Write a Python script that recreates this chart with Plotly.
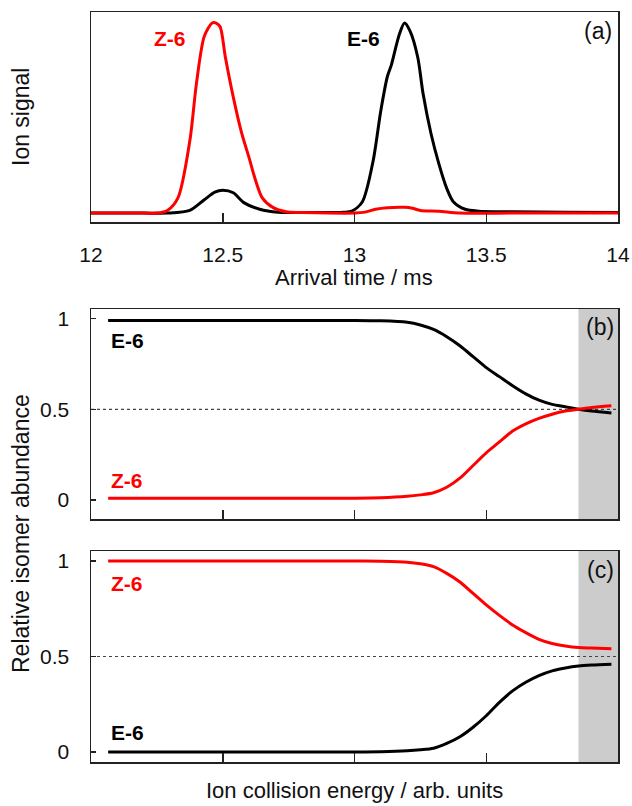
import plotly.graph_objects as go

# ---------------- data ----------------
# Panel (a): arrival-time distributions
t_z = [12.0, 12.1, 12.2, 12.25, 12.29, 12.33, 12.375, 12.40, 12.43, 12.46, 12.475, 12.49,
       12.51, 12.54, 12.57, 12.60, 12.625, 12.65, 12.69, 12.74, 12.8, 12.9, 13.0, 13.04,
       13.08, 13.125, 13.19, 13.22, 13.25, 13.32, 13.4, 13.6, 13.8, 14.0]
z_signal = [0, 0, 0, 0, 0.014, 0.08, 0.38, 0.68, 0.93, 1.0, 1.0, 0.98,
            0.82, 0.61, 0.43, 0.29, 0.17, 0.08, 0.03, 0.007, 0.003, 0, 0, 0.005,
            0.02, 0.028, 0.03, 0.025, 0.014, 0.01, 0.0, 0, 0, 0]

t_e = [12.0, 12.2, 12.29, 12.375, 12.43, 12.47, 12.5, 12.54, 12.58, 12.64, 12.71, 12.8,
       12.9, 12.96, 12.99, 13.03, 13.07, 13.10, 13.125, 13.14, 13.17, 13.19, 13.21, 13.24,
       13.26, 13.29, 13.32, 13.35, 13.375, 13.42, 13.47, 13.6, 13.8, 14.0]
e_signal = [0, 0, 0, 0.014, 0.07, 0.11, 0.12, 0.107, 0.055, 0.02, 0.004, 0.003,
            0.003, 0.004, 0.01, 0.06, 0.27, 0.54, 0.72, 0.78, 0.94, 1.0, 0.96, 0.82,
            0.63, 0.42, 0.26, 0.13, 0.06, 0.02, 0.01, 0.007, 0.004, 0.003]

time_ticks = [12, 12.5, 13, 13.5, 14]
time_tick_labels = ["12", "12.5", "13", "13.5", "14"]

# Panels (b) and (c): relative abundance vs collision energy
energy = [0.13, 0.5, 1.0, 1.5, 2.0, 2.2, 2.4, 2.5, 2.6, 2.7, 2.8, 2.9, 3.0, 3.1, 3.2,
          3.3, 3.4, 3.5, 3.6, 3.7, 3.8, 3.95]
b_E6 = [0.99, 0.99, 0.99, 0.99, 0.99, 0.988, 0.98, 0.965, 0.94, 0.90, 0.85, 0.79, 0.73, 0.68, 0.63,
        0.585, 0.55, 0.527, 0.514, 0.50, 0.49, 0.48]
b_Z6 = [0.01, 0.01, 0.01, 0.01, 0.01, 0.012, 0.02, 0.028, 0.04, 0.07, 0.12, 0.19, 0.26, 0.32, 0.38,
        0.42, 0.45, 0.473, 0.49, 0.50, 0.51, 0.52]
c_Z6 = [1.0, 1.0, 1.0, 1.0, 1.0, 0.998, 0.993, 0.985, 0.97, 0.935, 0.89, 0.83, 0.77, 0.715, 0.665,
        0.625, 0.59, 0.568, 0.555, 0.547, 0.544, 0.54]
c_E6 = [0.0, 0.0, 0.0, 0.0, 0.0, 0.002, 0.007, 0.012, 0.02, 0.045, 0.08, 0.13, 0.19, 0.26, 0.32,
        0.365, 0.40, 0.425, 0.44, 0.45, 0.455, 0.46]

abund_ticks = [0, 0.5, 1]
abund_tick_labels = ["0", "0.5", "1"]
energy_ticks = [1, 2, 3]
shade_range = [3.70, 4.0]

# ---------------- figure ----------------
W, H = 632, 806
RED = "#ff0000"
BLK = "#000000"
FONT = "Liberation Sans, Arial, sans-serif"

def px_x(p):
    return p / W

def px_y(p):
    return 1 - p / H

fig = go.Figure()

line_kw = dict(shape="spline", smoothing=0.8, width=3)

fig.add_trace(go.Scatter(x=t_e, y=e_signal, mode="lines", line=dict(color=BLK, **line_kw),
                         xaxis="x", yaxis="y", showlegend=False, hoverinfo="skip"))
fig.add_trace(go.Scatter(x=t_z, y=z_signal, mode="lines", line=dict(color=RED, **line_kw),
                         xaxis="x", yaxis="y", showlegend=False, hoverinfo="skip"))

fig.add_trace(go.Scatter(x=energy, y=b_E6, mode="lines", line=dict(color=BLK, **line_kw),
                         xaxis="x2", yaxis="y2", showlegend=False, hoverinfo="skip"))
fig.add_trace(go.Scatter(x=energy, y=b_Z6, mode="lines", line=dict(color=RED, **line_kw),
                         xaxis="x2", yaxis="y2", showlegend=False, hoverinfo="skip"))

fig.add_trace(go.Scatter(x=energy, y=c_E6, mode="lines", line=dict(color=BLK, **line_kw),
                         xaxis="x3", yaxis="y3", showlegend=False, hoverinfo="skip"))
fig.add_trace(go.Scatter(x=energy, y=c_Z6, mode="lines", line=dict(color=RED, **line_kw),
                         xaxis="x3", yaxis="y3", showlegend=False, hoverinfo="skip"))

xdom = [px_x(91), px_x(618)]
axis_common = dict(showline=True, linecolor="#222222", linewidth=1.5, mirror=True,
                   showgrid=False, zeroline=False, tickcolor="#222222", automargin=False,
                   tickwidth=1.5, tickfont=dict(family=FONT, size=21, color="#111111"))

fig.update_layout(
    width=W, height=H, margin=dict(l=0, r=0, t=0, b=0, autoexpand=False),
    paper_bgcolor="white", plot_bgcolor="white",
    font=dict(family=FONT, color="#111111"),
    xaxis=dict(domain=xdom, anchor="y", range=[12, 14], tickvals=time_ticks, ticks="inside",
               ticktext=time_tick_labels, ticklen=9, ticklabelstandoff=13, **axis_common),
    yaxis=dict(domain=[px_y(222), px_y(12)], anchor="x", range=[-0.047, 1.058],
               showticklabels=False, ticks="", **axis_common),
    xaxis2=dict(domain=xdom, anchor="y2", range=[0, 4], tickvals=energy_ticks, ticks="inside",
                showticklabels=False, ticklen=9, **axis_common),
    yaxis2=dict(domain=[px_y(519), px_y(309)], anchor="x2", range=[-0.105, 1.053], ticks="inside",
                tickvals=abund_ticks, ticktext=abund_tick_labels, ticklen=5,
                ticklabelstandoff=16, **axis_common),
    xaxis3=dict(domain=xdom, anchor="y3", range=[0, 4], tickvals=energy_ticks, ticks="inside",
                showticklabels=False, ticklen=9, **axis_common),
    yaxis3=dict(domain=[px_y(762), px_y(551)], anchor="x3", range=[-0.052, 1.052], ticks="inside",
                tickvals=abund_ticks, ticktext=abund_tick_labels, ticklen=5,
                ticklabelstandoff=16, **axis_common),
)

shapes = []
for xa, ya in (("x2", "y2"), ("x3", "y3")):
    shapes.append(dict(type="rect", xref=xa, yref=f"{ya} domain", x0=shade_range[0], x1=shade_range[1],
                       y0=0, y1=1, fillcolor="#cccccc", line=dict(width=0), layer="below"))
    shapes.append(dict(type="line", xref=f"{xa} domain", yref=ya, x0=0, x1=1, y0=0.5, y1=0.5,
                       line=dict(color="#444444", width=1.2, dash="dot"), layer="below"))
fig.update_layout(shapes=shapes)

lab_bold = dict(family=FONT, size=21)
panel_font = dict(family=FONT, size=23, color="#111111")
ann = []
# panel (a)
ann.append(dict(x=12.30, y=0.918, xref="x", yref="y", text="<b>Z-6</b>", showarrow=False,
                font=dict(color=RED, **lab_bold)))
ann.append(dict(x=13.035, y=0.918, xref="x", yref="y", text="<b>E-6</b>", showarrow=False,
                font=dict(color=BLK, **lab_bold)))
ann.append(dict(x=13.985, y=0.96, xref="x", yref="y", text="(a)", showarrow=False, xanchor="right",
                font=panel_font))
# panel (b)
ann.append(dict(x=0.277, y=0.88, xref="x2", yref="y2", text="<b>E-6</b>", showarrow=False,
                font=dict(color=BLK, **lab_bold)))
ann.append(dict(x=0.277, y=0.11, xref="x2", yref="y2", text="<b>Z-6</b>", showarrow=False,
                font=dict(color=RED, **lab_bold)))
ann.append(dict(x=3.985, y=0.955, xref="x2", yref="y2", text="(b)", showarrow=False, xanchor="right",
                font=panel_font))
# panel (c)
ann.append(dict(x=0.277, y=0.88, xref="x3", yref="y3", text="<b>Z-6</b>", showarrow=False,
                font=dict(color=RED, **lab_bold)))
ann.append(dict(x=0.277, y=0.10, xref="x3", yref="y3", text="<b>E-6</b>", showarrow=False,
                font=dict(color=BLK, **lab_bold)))
ann.append(dict(x=3.985, y=0.955, xref="x3", yref="y3", text="(c)", showarrow=False, xanchor="right",
                font=panel_font))
# axis titles
title_font = dict(family=FONT, size=22, color="#111111")
ytitle_font = dict(family=FONT, size=23, color="#111111")
common_t = dict(xref="paper", yref="paper", showarrow=False, xanchor="center", yanchor="middle")
ann.append(dict(x=px_x(354), y=px_y(277), text="Arrival time / ms", font=title_font, **common_t))
ann.append(dict(x=px_x(354), y=px_y(790), text="Ion collision energy / arb. units",
                font=title_font, **common_t))
ann.append(dict(x=px_x(21), y=px_y(117), text="Ion signal", textangle=-90,
                font=ytitle_font, **common_t))
ann.append(dict(x=px_x(21), y=px_y(534), text="Relative isomer abundance", textangle=-90,
                font=ytitle_font, **common_t))
fig.update_layout(annotations=ann)

fig.write_html("out.html", config={"displayModeBar": False, "staticPlot": True},
               post_script="document.body.style.margin='0';document.body.style.padding='0';")
